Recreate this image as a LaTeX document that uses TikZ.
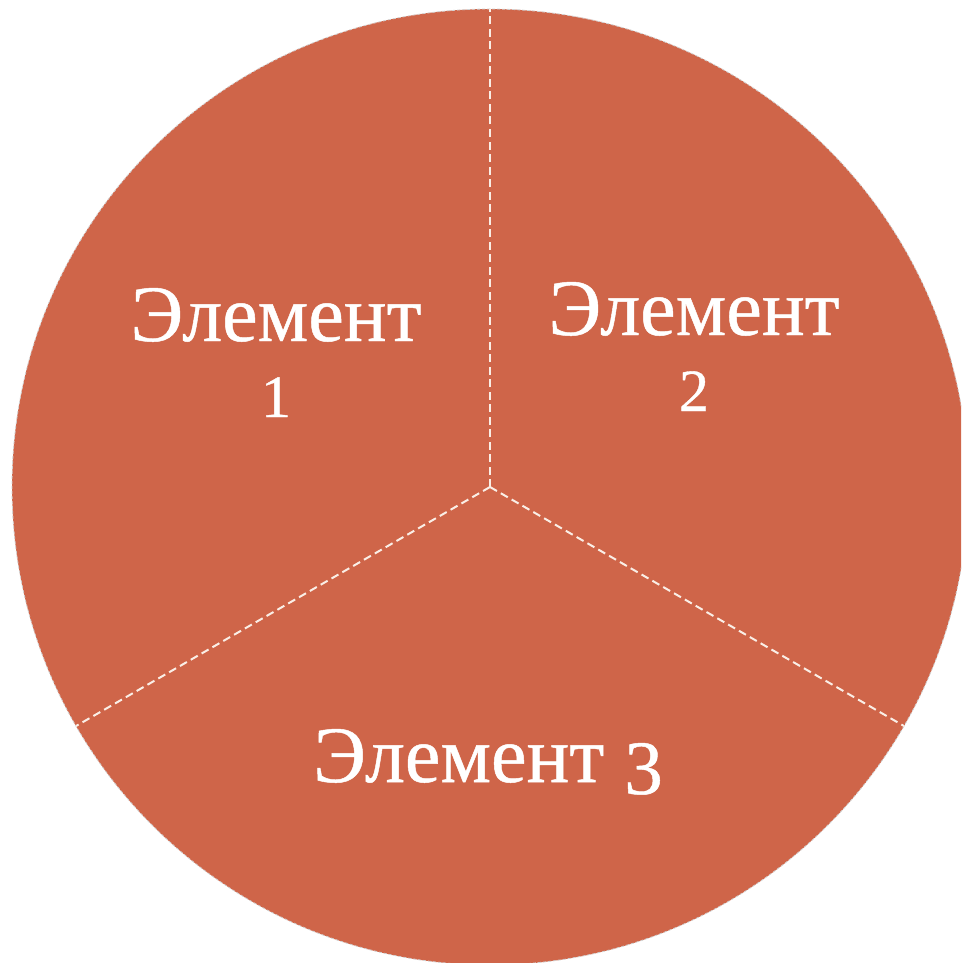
\documentclass[tikz,border=0pt]{standalone}
\usepackage{fontspec}
\setmainfont{Liberation Serif}[FakeBold=0.6]
\definecolor{piefill}{RGB}{207,101,73}
\definecolor{divline}{RGB}{250,238,230}
\newcommand\osdig[3]{{\fontsize{#1}{76}\selectfont\raisebox{#2}{#3}}}
\begin{document}
\begin{tikzpicture}[x=1pt,y=-1pt,
  sector/.style={fill=piefill},
  divider/.style={draw=divline,line width=2pt,dash pattern=on 8pt off 4.5pt},
  rim/.style={draw=gray!35,line width=0.8pt,dash pattern=on 3pt off 2pt},
  lbl/.style={text=white,align=center,anchor=base,inner sep=0pt,
    font=\fontsize{80}{76}\selectfont}]
\useasboundingbox (0,0) rectangle (961,963);
\begin{scope}
\clip (0,0) rectangle (961,963);
\coordinate (c) at (490,487);
\fill[sector] (490,487) circle[radius=478];
\draw[rim] (490,487) circle[radius=478];
\coordinate (p1) at (490,9);
\coordinate (p2) at ({490+478*cos(30)},{487+478*sin(30)});
\coordinate (p3) at ({490-478*cos(30)},{487+478*sin(30)});
\draw[divider] (c) -- (p1);
\draw[divider] (c) -- (p2);
\draw[divider] (c) -- (p3);
\end{scope}
\node[lbl] (e1) at (276,417) {Элемент\\\osdig{60}{0pt}{1}};
\node[lbl] (e2) at (694,411) {Элемент\\\osdig{60}{0pt}{2}};
\node[lbl] (e3) at (488,782) {Элемент \osdig{77}{-12pt}{3}};
\end{tikzpicture}
\end{document}
